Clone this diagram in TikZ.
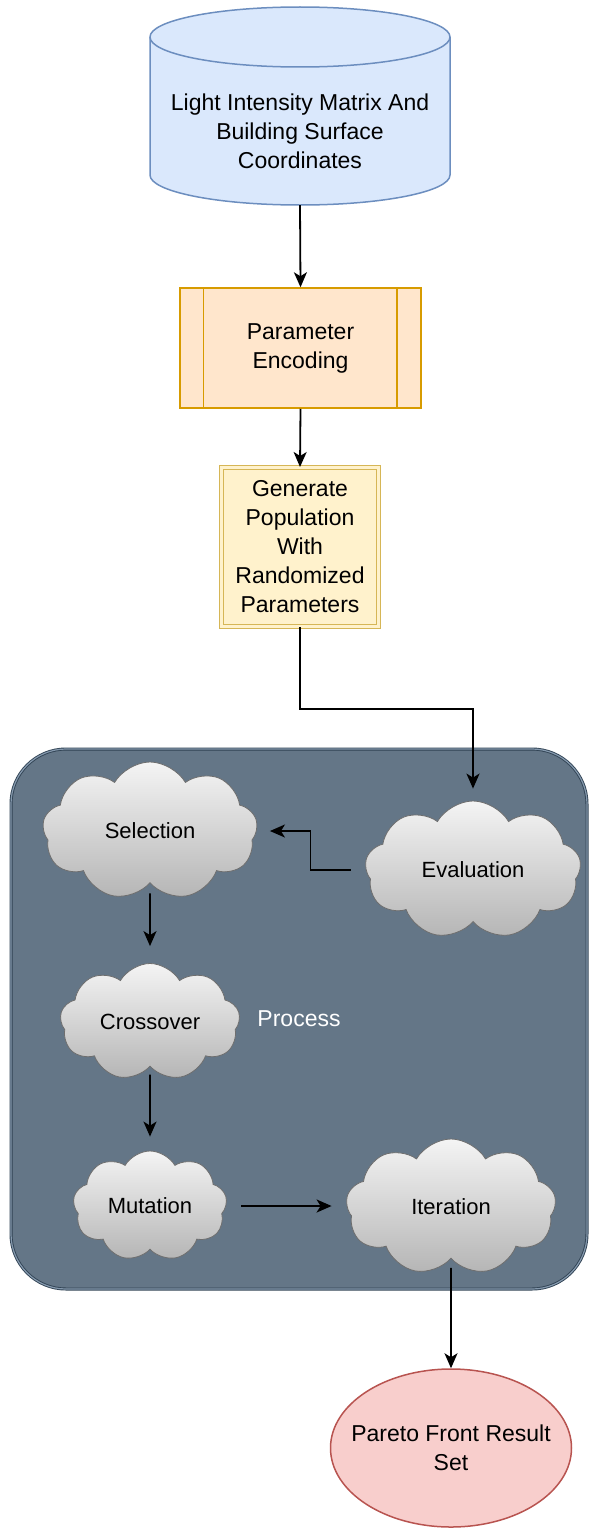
\documentclass[tikz,border=0pt]{standalone}
\usepackage{fontspec}
\setmainfont{Liberation Sans}
\usetikzlibrary{calc}
\usetikzlibrary{arrows.meta}
\usetikzlibrary{shapes.geometric,shapes.symbols}
\definecolor{dbfill}{HTML}{DAE8FC}
\definecolor{dbline}{HTML}{6C8EBF}
\definecolor{encfill}{HTML}{FFE6CC}
\definecolor{encline}{HTML}{D79B00}
\definecolor{genfill}{HTML}{FFF2CC}
\definecolor{genline}{HTML}{D6B656}
\definecolor{grpfill}{HTML}{647687}
\definecolor{grpline}{HTML}{314354}
\definecolor{grpedge}{HTML}{8498AD}
\definecolor{cloudtop}{HTML}{F4F4F4}
\definecolor{cloudbot}{HTML}{B5B5B5}
\definecolor{cloudline}{HTML}{6E6E6E}
\definecolor{resfill}{HTML}{F8CECC}
\definecolor{resline}{HTML}{B85450}

\begin{document}
\begin{tikzpicture}[x=1pt, y=-1pt,
  txt/.style={align=center, font=\fontsize{23}{29}\selectfont},
  flow/.style={black, line width=1.8pt, ->, >={Stealth[length=15pt,width=13pt,inset=4pt]}},
  procbox/.style={txt, draw=encline, fill=encfill, line width=1.5pt, minimum width=241pt, minimum height=120pt},
  genbox/.style={txt, draw=genline, fill=genfill, double=genfill, double distance=2.5pt, line width=1pt, minimum width=157pt, minimum height=159pt, inner sep=2pt},
  grpbox/.style={txt, text=white, draw=grpline, double=grpedge, double distance=1.2pt, line width=0.9pt, fill=grpfill, rounded corners=55pt, minimum width=576pt, minimum height=540pt},
  cloudy/.style={cloud, cloud puffs=9, cloud puff arc=120, cloud ignores aspect, draw=cloudline, line width=0.8pt, top color=cloudtop, bottom color=cloudbot, align=center, font=\fontsize{22}{27}\selectfont},
  resnode/.style={txt, ellipse, draw=resline, fill=resfill, line width=1.5pt, inner xsep=-24pt, minimum width=241pt, minimum height=158pt}
]
\useasboundingbox (0,0) rectangle (589,1528);

\filldraw[fill=dbfill, draw=dbline, line width=1.5pt] (150,37) -- (150,175) arc[start angle=180, end angle=360, x radius=150pt, y radius=30pt] -- (450,37) arc[start angle=0, end angle=180, x radius=150pt, y radius=30pt] -- cycle;
\draw[dbline, line width=1.5pt] (150,37) arc[start angle=180, end angle=360, x radius=150pt, y radius=30pt];
\node[txt, minimum width=300pt, minimum height=148pt] (data) at (300,131) {Light Intensity Matrix And\\Building Surface\\Coordinates};

\node[procbox] (encode) at (300.5,348) {Parameter\\Encoding};
\foreach \c/\d in {west/24, east/-25}
  \draw[encline, line width=1.5pt] ($(encode.north \c)+(\d,0)$) -- ($(encode.south \c)+(\d,0)$);

\node[genbox] (gen) at (300,547) {Generate\\Population\\With\\Randomized\\Parameters};

\node[grpbox] (proc) at (299,1019) {Process};

\node[cloudy, minimum width=215pt, minimum height=138pt] (sel) at (150,831) {Selection};
\node[cloudy, minimum width=216pt, minimum height=138pt] (eval) at (473,870) {Evaluation};
\node[cloudy, minimum width=180pt, minimum height=117pt] (cross) at (150,1022) {Crossover};
\node[cloudy, minimum width=154pt, minimum height=110pt] (mut) at (150,1206) {Mutation};
\node[cloudy, minimum width=210pt, minimum height=136pt] (iter) at (451,1207) {Iteration};

\node[resnode] (pareto) at (451,1448) {Pareto Front Result\\Set};

\foreach \a/\b in {data/encode, encode/gen}
  \draw[flow] (\a.south) -- (\b.north);
\draw[flow, shorten >=12pt] (gen.south) -- ++(0,82) -| (eval.north);
\draw[flow, shorten <=15pt, shorten >=13pt] (eval.west) -- ++(-55,0) |- (sel.east);
\draw[flow, shorten <=10pt, shorten >=17pt] (sel.south) -- (cross.north);
\draw[flow, shorten <=8pt, shorten >=14pt] (cross.south) -- (mut.north);
\draw[flow, shorten <=15pt, shorten >=15pt] (mut.east) -- (mut.east -| iter.west);
\draw[flow, shorten <=9pt] (iter.south) -- (pareto.north);
\end{tikzpicture}
\end{document}
